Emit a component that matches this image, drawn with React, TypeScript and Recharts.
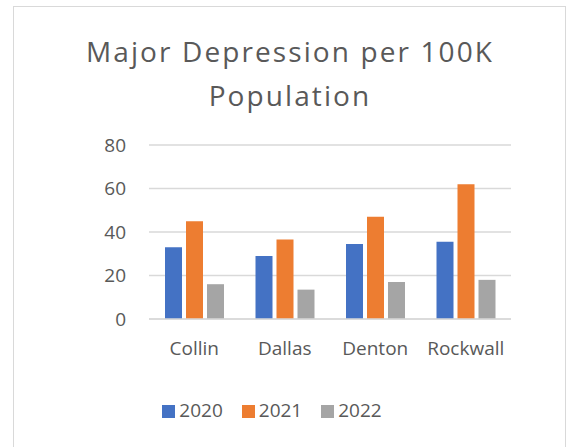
import React from 'react';
import { BarChart, Bar, XAxis, YAxis, CartesianGrid, Legend } from 'recharts';

const counties = ['Collin', 'Dallas', 'Denton', 'Rockwall'];
const rate2020 = [33, 29, 34.5, 35.5];
const rate2021 = [45, 36.5, 47, 62];
const rate2022 = [16, 13.5, 17, 18];
const yTicks = [0, 20, 40, 60, 80];

const data = counties.map((name, i) => ({
  name,
  y2020: rate2020[i],
  y2021: rate2021[i],
  y2022: rate2022[i],
}));

const font = '"Open Sans", sans-serif';
const textColor = '#595959';
const gridColor = '#d9d9d9';

const titleStyle: React.CSSProperties = {
  position: 'absolute',
  left: 0,
  width: 580,
  textAlign: 'center',
  fontSize: 28,
  lineHeight: '36px',
  letterSpacing: 2.1,
  color: textColor,
  whiteSpace: 'nowrap',
};

const App: React.FC = () => {
  return (
    <div style={{ position: 'absolute', left: 0, top: 0, width: 566, height: 447, overflow: 'hidden', background: '#fff', fontFamily: font }}>
      {/* chart frame */}
      <div style={{ position: 'absolute', left: 13, top: 6, width: 553, height: 470, border: `1px solid ${gridColor}`, boxSizing: 'border-box' }} />
      <div style={{ ...titleStyle, top: 33 }}>Major Depression per 100K</div>
      <div style={{ ...titleStyle, top: 77 }}>Population</div>
      <div style={{ position: 'absolute', left: 0, top: 0 }}>
        <BarChart
          width={566}
          height={447}
          data={data}
          margin={{ top: 145, right: 55, left: 109, bottom: 62 }}
          barGap={4}
          barSize={17}
        >
          <CartesianGrid vertical={false} stroke={gridColor} strokeWidth={1.5} />
          <XAxis
            dataKey="name"
            axisLine={{ stroke: gridColor, strokeWidth: 1.5 }}
            tickLine={false}
            tick={{ fill: textColor, fontSize: 19, fontFamily: font }}
            tickMargin={17}
            height={40}
          />
          <YAxis
            domain={[0, 80]}
            ticks={yTicks}
            axisLine={false}
            tickLine={false}
            tick={{ fill: textColor, fontSize: 19, fontFamily: font }}
            tickMargin={17}
            width={40}
          />
          <Legend
            verticalAlign="bottom"
            iconType="square"
            iconSize={13}
            wrapperStyle={{ fontSize: 19, fontFamily: font, color: textColor, left: 0, width: 563, top: 397, bottom: 'auto' }}
            formatter={(value) => <span style={{ color: textColor, marginRight: 9 }}>{value}</span>}
          />
          <Bar dataKey="y2020" name="2020" fill="#4472C4" isAnimationActive={false} />
          <Bar dataKey="y2021" name="2021" fill="#ED7D31" isAnimationActive={false} />
          <Bar dataKey="y2022" name="2022" fill="#A5A5A5" isAnimationActive={false} />
        </BarChart>
      </div>
    </div>
  );
};

export default App;
